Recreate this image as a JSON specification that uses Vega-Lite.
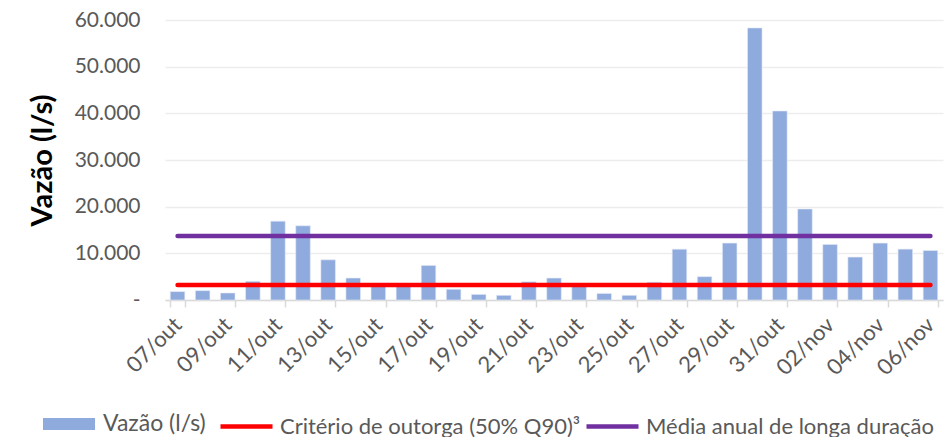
{
  "$schema": "https://vega.github.io/schema/vega-lite/v6.json",
  "width": 778,
  "height": 280,
  "autosize": {"type": "none"},
  "padding": {"left": 165, "top": 20, "right": 8, "bottom": 137},
  "background": "white",
  "config": {
    "view": {"stroke": null},
    "font": "Lato"
  },
  "data": {
    "values": [
      {"dia": "07/out", "vazao": 1800, "criterio": 3200, "media": 13700},
      {"dia": "08/out", "vazao": 2000, "criterio": 3200, "media": 13700},
      {"dia": "09/out", "vazao": 1500, "criterio": 3200, "media": 13700},
      {"dia": "10/out", "vazao": 4000, "criterio": 3200, "media": 13700},
      {"dia": "11/out", "vazao": 16900, "criterio": 3200, "media": 13700},
      {"dia": "12/out", "vazao": 15900, "criterio": 3200, "media": 13700},
      {"dia": "13/out", "vazao": 8600, "criterio": 3200, "media": 13700},
      {"dia": "14/out", "vazao": 4700, "criterio": 3200, "media": 13700},
      {"dia": "15/out", "vazao": 3100, "criterio": 3200, "media": 13700},
      {"dia": "16/out", "vazao": 3000, "criterio": 3200, "media": 13700},
      {"dia": "17/out", "vazao": 7400, "criterio": 3200, "media": 13700},
      {"dia": "18/out", "vazao": 2300, "criterio": 3200, "media": 13700},
      {"dia": "19/out", "vazao": 1200, "criterio": 3200, "media": 13700},
      {"dia": "20/out", "vazao": 1000, "criterio": 3200, "media": 13700},
      {"dia": "21/out", "vazao": 3900, "criterio": 3200, "media": 13700},
      {"dia": "22/out", "vazao": 4700, "criterio": 3200, "media": 13700},
      {"dia": "23/out", "vazao": 3200, "criterio": 3200, "media": 13700},
      {"dia": "24/out", "vazao": 1400, "criterio": 3200, "media": 13700},
      {"dia": "25/out", "vazao": 1000, "criterio": 3200, "media": 13700},
      {"dia": "26/out", "vazao": 3800, "criterio": 3200, "media": 13700},
      {"dia": "27/out", "vazao": 10900, "criterio": 3200, "media": 13700},
      {"dia": "28/out", "vazao": 5000, "criterio": 3200, "media": 13700},
      {"dia": "29/out", "vazao": 12200, "criterio": 3200, "media": 13700},
      {"dia": "30/out", "vazao": 58300, "criterio": 3200, "media": 13700},
      {"dia": "31/out", "vazao": 40500, "criterio": 3200, "media": 13700},
      {"dia": "01/nov", "vazao": 19500, "criterio": 3200, "media": 13700},
      {"dia": "02/nov", "vazao": 11900, "criterio": 3200, "media": 13700},
      {"dia": "03/nov", "vazao": 9200, "criterio": 3200, "media": 13700},
      {"dia": "04/nov", "vazao": 12200, "criterio": 3200, "media": 13700},
      {"dia": "05/nov", "vazao": 10900, "criterio": 3200, "media": 13700},
      {"dia": "06/nov", "vazao": 10600, "criterio": 3200, "media": 13700}
    ]
  },
  "encoding": {
    "x": {
      "field": "dia",
      "type": "nominal",
      "sort": null,
      "scale": {"paddingInner": 0.42, "paddingOuter": 0.21},
      "axis": {
        "title": null,
        "values": ["07/out", "09/out", "11/out", "13/out", "15/out", "17/out", "19/out", "21/out", "23/out", "25/out", "27/out", "29/out", "31/out", "02/nov", "04/nov", "06/nov"],
        "tickBand": "extent",
        "labelAngle": -45,
        "labelAlign": "right",
        "labelBaseline": "middle",
        "labelPadding": 14,
        "labelFontSize": 22,
        "labelColor": "#595959",
        "domainColor": "#D9D9D9",
        "domainWidth": 1.5,
        "tickColor": "#D9D9D9",
        "tickWidth": 1.5,
        "tickSize": 7,
        "grid": false
      }
    }
  },
  "layer": [
    {
      "mark": {"type": "bar", "stroke": "#E4EBF7", "strokeWidth": 0.6},
      "encoding": {
        "y": {
          "field": "vazao",
          "type": "quantitative",
          "scale": {"domain": [0, 60000], "nice": false},
          "axis": {
            "title": "Vazão (l/s)",
            "titleFontSize": 29,
            "titleFontWeight": "bold",
            "titleColor": "#000000",
            "titlePadding": 17,
            "values": [0, 10000, 20000, 30000, 40000, 50000, 60000],
            "labelExpr": "datum.value === 0 ? '-' : replace(format(datum.value, ',.0f'), ',', '.')",
            "labelFontSize": 21,
            "labelColor": "#595959",
            "labelPadding": 25,
            "domain": false,
            "ticks": false,
            "grid": true,
            "gridColor": "#EDEDED",
            "gridWidth": 1.5
          }
        },
        "fill": {
          "datum": "Vazão (l/s)",
          "scale": {"domain": ["Vazão (l/s)"], "range": ["#8FAADC"]},
          "legend": {
            "title": null,
            "orient": "none",
            "legendX": -122,
            "legendY": 378,
            "labelFontSize": 23,
            "labelColor": "#595959",
            "labelOffset": 8,
            "labelLimit": 0,
            "symbolSize": 2704,
            "symbolType": "M-1,-0.23L1,-0.23L1,0.23L-1,0.23Z",
            "symbolStrokeWidth": 0,
            "symbolOpacity": 1
          }
        }
      }
    },
    {
      "mark": {"type": "line", "strokeWidth": 4.5, "strokeCap": "round"},
      "encoding": {
        "y": {"field": "criterio", "type": "quantitative"},
        "stroke": {
          "datum": "Critério de outorga (50% Q90)³",
          "scale": {"domain": ["Critério de outorga (50% Q90)³"], "range": ["#FF0000"]},
          "legend": {
            "title": null,
            "orient": "none",
            "legendX": 53,
            "legendY": 378,
            "labelFontSize": 22,
            "labelColor": "#595959",
            "labelOffset": 5,
            "labelLimit": 0,
            "symbolSize": 2704,
            "symbolType": "stroke",
            "symbolStrokeWidth": 4.5,
            "symbolOpacity": 1
          }
        }
      }
    },
    {
      "mark": {"type": "line", "strokeWidth": 4.5, "strokeCap": "round"},
      "encoding": {
        "y": {"field": "media", "type": "quantitative"},
        "color": {
          "datum": "Média anual de longa duração",
          "scale": {"domain": ["Média anual de longa duração"], "range": ["#7030A0"]},
          "legend": {
            "title": null,
            "orient": "none",
            "legendX": 419,
            "legendY": 378,
            "labelFontSize": 22,
            "labelColor": "#595959",
            "labelOffset": 5,
            "labelLimit": 0,
            "symbolSize": 2704,
            "symbolType": "stroke",
            "symbolStrokeWidth": 4.5,
            "symbolOpacity": 1
          }
        }
      }
    }
  ]
}
